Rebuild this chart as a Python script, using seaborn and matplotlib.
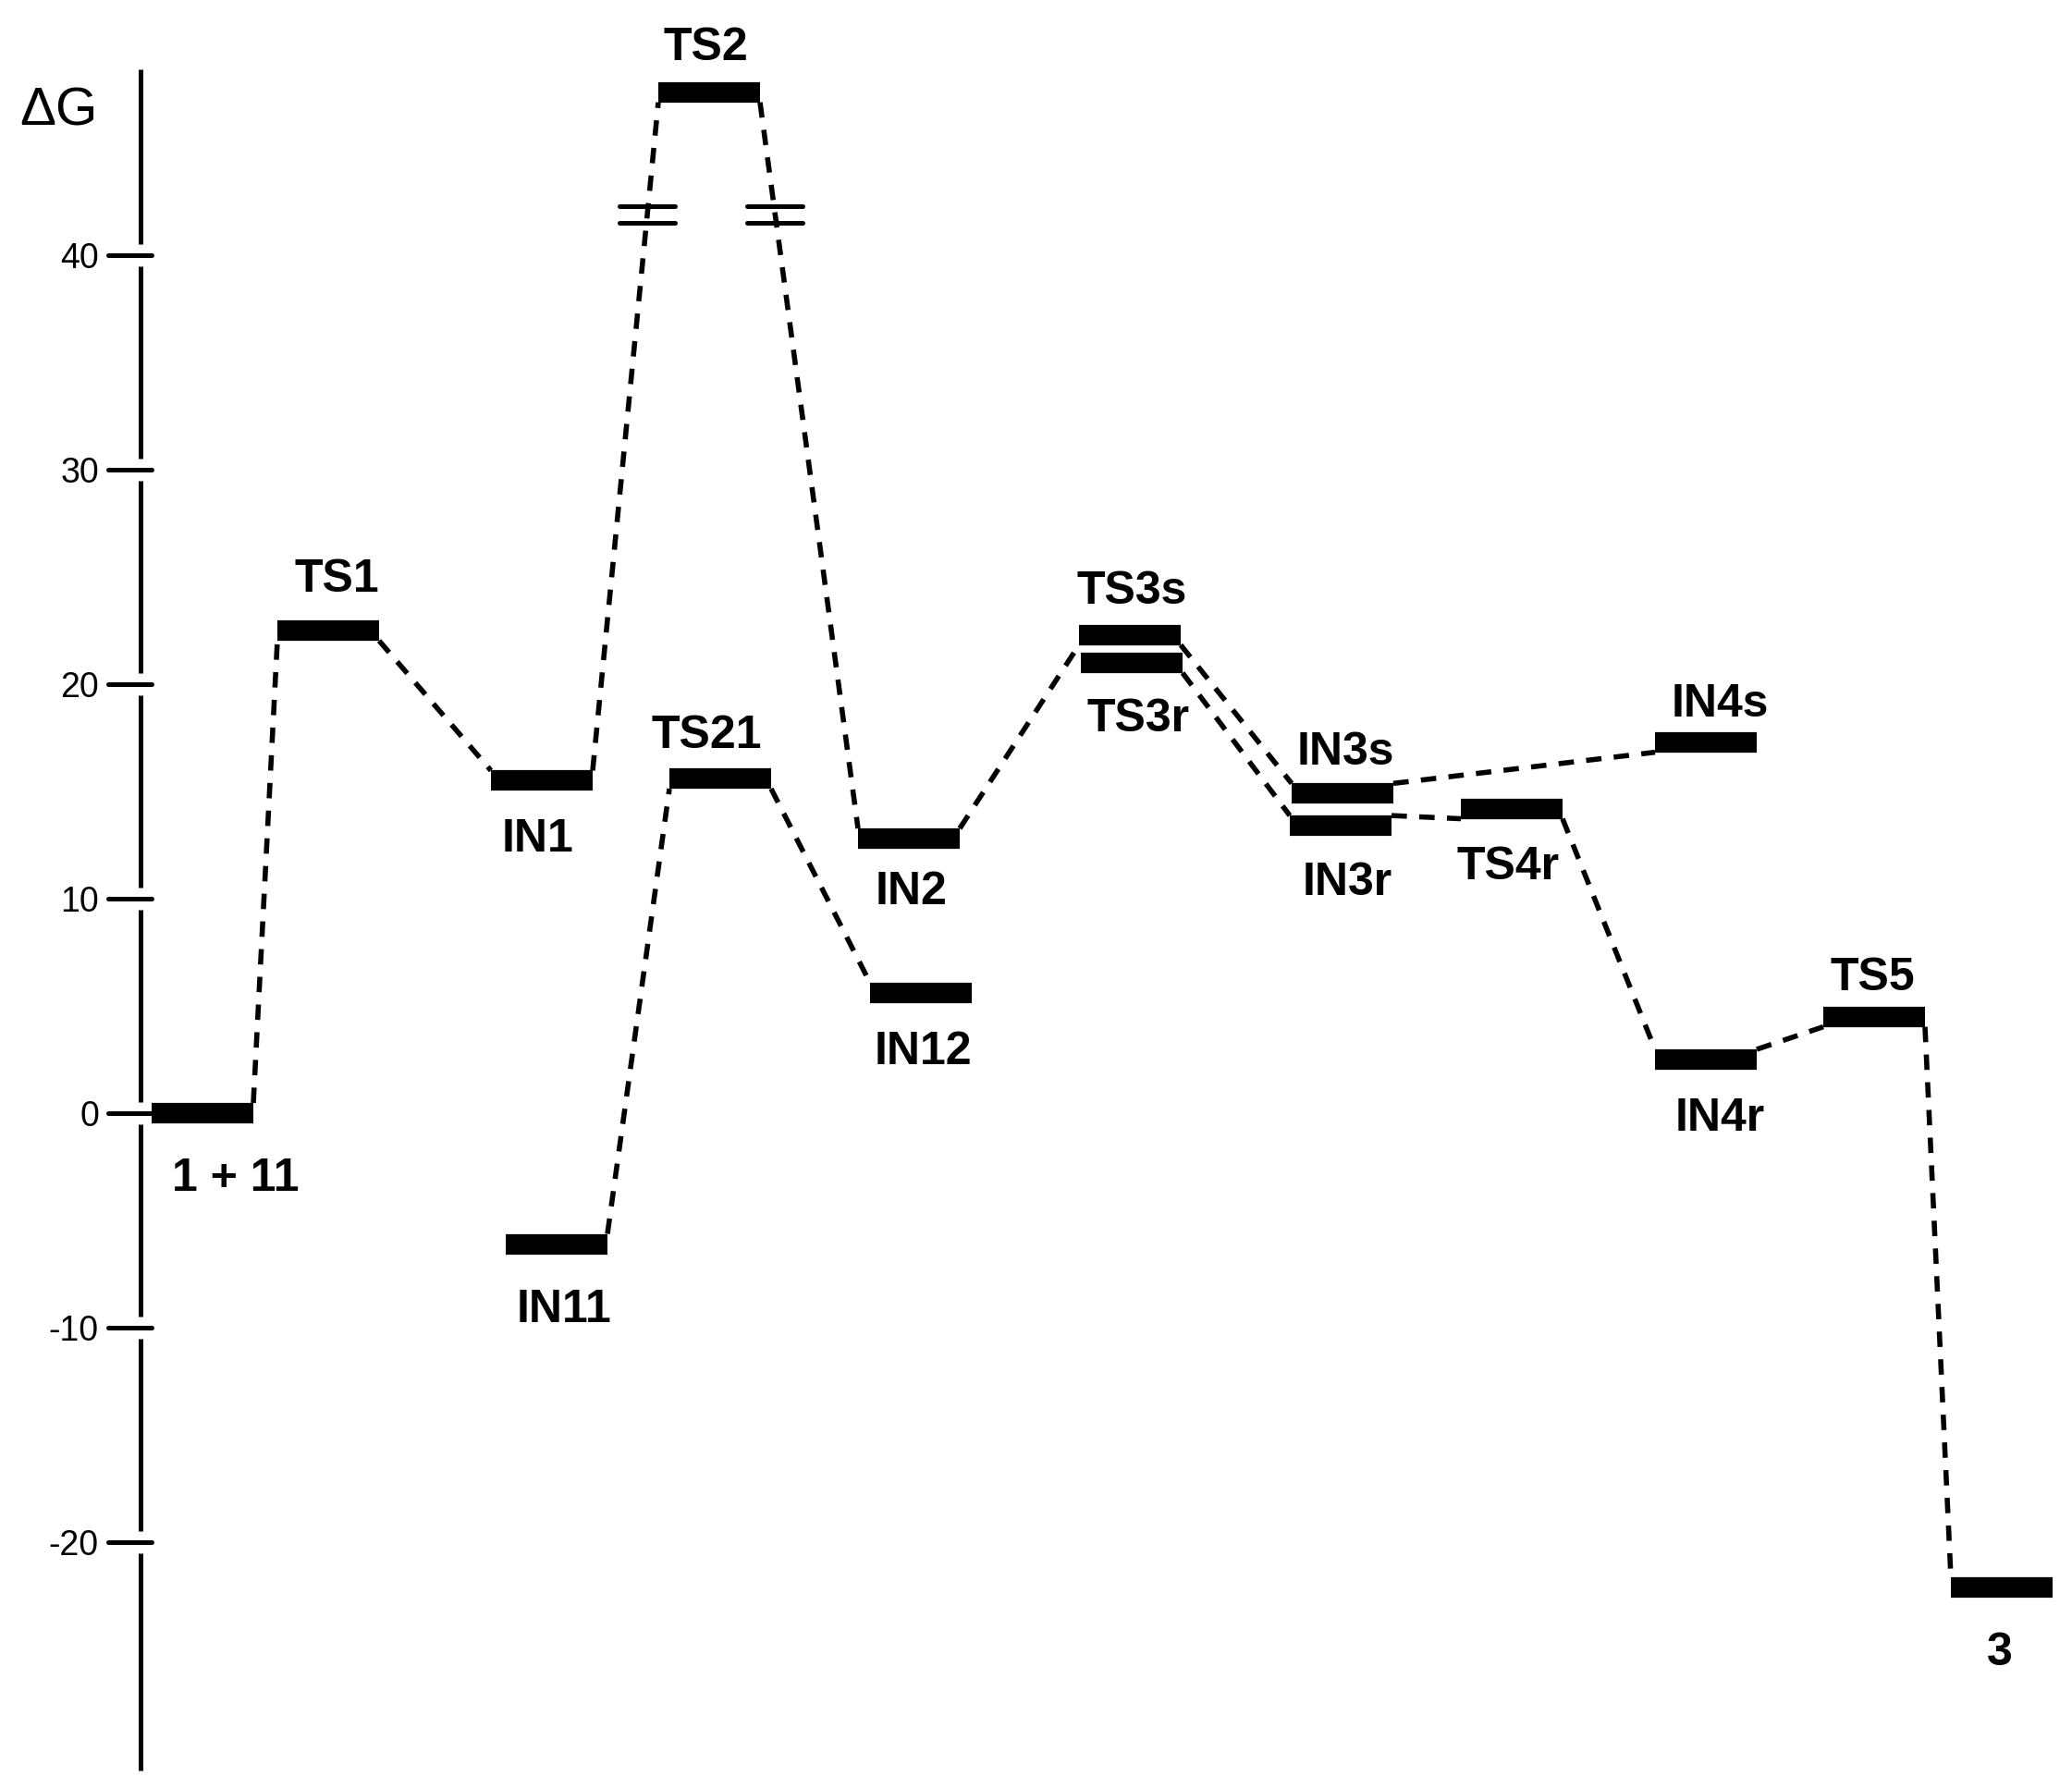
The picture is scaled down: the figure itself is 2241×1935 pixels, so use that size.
import numpy as np
import pandas as pd
import matplotlib
matplotlib.use("Agg")
import matplotlib.pyplot as plt
import seaborn as sns

# Free energy profile values (kcal/mol)
names = ['1 + 11', 'TS1', 'IN1', 'IN11', 'TS2', 'TS21', 'IN2', 'IN12', 'TS3s', 'TS3r',
         'IN3s', 'IN3r', 'TS4r', 'IN4s', 'IN4r', 'TS5', '3']
energies = [0.0, 22.5, 15.5, -6.1, 47.6, 15.6, 12.8, 5.6, 22.3, 21.0,
            14.9, 13.4, 14.2, 17.3, 2.5, 4.5, -22.1]
# horizontal placement of each state along the reaction coordinate
stage_x = [219, 355, 586, 602, 767, 779, 983, 996, 1222, 1224,
           1452, 1450, 1635, 1845, 1845, 2027, 2165]

connections = [('1 + 11', 'TS1'), ('TS1', 'IN1'), ('IN1', 'TS2'), ('TS2', 'IN2'),
               ('IN11', 'TS21'), ('TS21', 'IN12'), ('IN2', 'TS3s'), ('TS3s', 'IN3s'),
               ('TS3r', 'IN3r'), ('IN3s', 'IN4s'), ('IN3r', 'TS4r'), ('TS4r', 'IN4r'),
               ('IN4r', 'TS5'), ('TS5', '3')]
broken = [('IN1', 'TS2'), ('TS2', 'IN2')]

yticks = [40, 30, 20, 10, 0, -10, -20]

# label offsets in pixels (dx, dy of text centre from bar centre)
label_off = {'1 + 11': (36, -66), 'TS1': (9, 60), 'IN1': (-4, -59), 'IN11': (8, -66),
             'TS2': (-4, 53), 'TS21': (-15, 51), 'IN2': (3, -53), 'IN12': (2, -59),
             'TS3s': (2, 52), 'TS3r': (7, -56), 'IN3s': (3, 49), 'IN3r': (7, -57),
             'TS4r': (-4, -58), 'IN4s': (15, 46), 'IN4r': (15, -59), 'TS5': (-2, 47),
             '3': (-2, -66)}

sns.set_style("white")
plt.rcParams['font.family'] = ['Liberation Sans', 'DejaVu Sans']
plt.rcParams['text.color'] = 'black'

PX = 23.2          # pixels per kcal/mol
HALF_W = 55        # half bar width, px
HALF_T = 11 / PX   # half bar thickness in data units

fig = plt.figure(figsize=(22.41, 19.35), dpi=100)
ax = fig.add_axes([0, 0, 1, 1])
ax.set_xlim(0, 2241)
ax.set_ylim(-(1935 - 1204) / PX, 1204 / PX)
ax.axis('off')

lev = pd.DataFrame({'name': names, 'x': stage_x, 'G': energies}).set_index('name')

# energy levels
bars = pd.DataFrame({
    'x': np.ravel([[x - HALF_W, x + HALF_W] for x in stage_x]),
    'G': np.repeat(energies, 2),
    'name': np.repeat(names, 2),
})
sns.lineplot(data=bars, x='x', y='G', units='name', estimator=None, sort=False,
             color='black', linewidth=16, solid_capstyle='butt', ax=ax, legend=False)

# dashed connectors
rows = []
for i, (a, b) in enumerate(connections):
    ga, gb = lev.loc[a, 'G'], lev.loc[b, 'G']
    s = 1 if gb > ga else -1
    rows.append((lev.loc[a, 'x'] + HALF_W, ga + s * HALF_T, i))
    rows.append((lev.loc[b, 'x'] - HALF_W, gb - s * HALF_T, i))
conn = pd.DataFrame(rows, columns=['x', 'G', 'seg'])
sns.lineplot(data=conn, x='x', y='G', units='seg', estimator=None, sort=False,
             color='black', linewidth=4, linestyle=(0, (3, 2.4)), ax=ax, legend=False)

# axis-break marks on the TS2 branches
for a, b in broken:
    seg = conn[conn['seg'] == connections.index((a, b))].sort_values('G')
    xb = np.interp(41.9, seg['G'], seg['x'])
    ax.hlines([42.3, 41.5], xb - 30, xb + 30, color='black', lw=3.6, capstyle='round')

# hand-drawn style y axis, broken at each tick
top, bottom = (1204 - 75) / PX, (1204 - 1915) / PX
edges = [top]
for t in yticks:
    edges += [t + 0.5, t - 0.5]
edges.append(bottom)
for y0, y1 in zip(edges[::2], edges[1::2]):
    ax.vlines(152, y1, y0, color='black', lw=3.6)
ax.hlines(yticks, 117, 164, color='black', lw=3.6, capstyle='round')
for t in yticks:
    ax.text(107, t - 14 / PX, str(t), ha='right', va='baseline', fontsize=27)

ax.text(63, (1204 - 135) / PX, '\u0394G', ha='center', va='baseline', fontsize=42)

# state labels
for n in names:
    dx, dy = label_off[n]
    ax.text(lev.loc[n, 'x'] + dx, lev.loc[n, 'G'] + (dy - 18) / PX, n,
            ha='center', va='baseline', fontsize=36, fontweight='bold')

fig.savefig('out.png', dpi=100)
